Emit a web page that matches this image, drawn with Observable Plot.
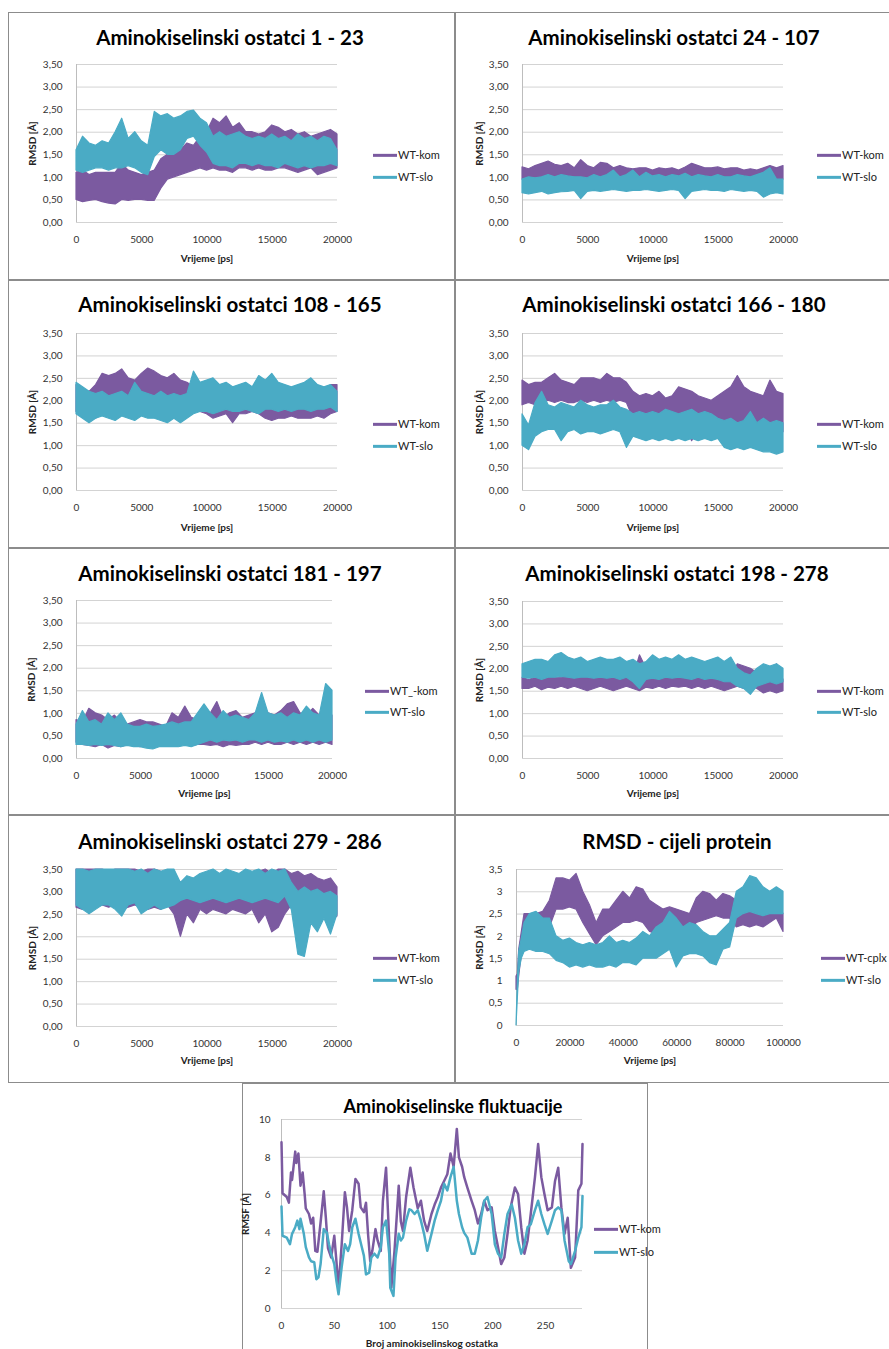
<!DOCTYPE html>
<html><head><meta charset="utf-8">
<script src="https://cdn.jsdelivr.net/npm/d3@7"></script>
<script src="https://cdn.jsdelivr.net/npm/@observablehq/plot@0.6"></script>
<style>
body{margin:0;background:#fff;font-family:Lato,"Open Sans",sans-serif;}
#page{position:relative;width:889px;height:1349px;overflow:hidden;background:#fff;}
.panel{position:absolute;border:1px solid #8c8c8c;box-sizing:border-box;}
.title{position:absolute;font-weight:700;color:#000;white-space:nowrap;transform:translate(-50%,-50%);line-height:1.1;}
.leg{position:absolute;font-size:11px;color:#222;white-space:nowrap;transform:translateY(-50%);display:flex;align-items:center;line-height:1.3;}
.leg i{display:inline-block;width:24px;height:3px;margin-right:1px;flex:none;}
</style></head>
<body><div id="page"></div>
<script>
// ---------- tick labels ----------
const ticksRmsd = [0,0.5,1,1.5,2,2.5,3,3.5];
const ticksTime20 = [0,5000,10000,15000,20000];
const ticksTime100 = [0,20000,40000,60000,80000,100000];
const ticksRmsf = [0,2,4,6,8,10];
const ticksRes = [0,50,100,150,200,250];

// ---------- time samples (ps) ----------
const times20 = [0,500,1000,1500,2000,2500,3000,3500,4000,4500,5000,5500,6000,6500,7000,7500,8000,8500,9000,9500,10000,10500,11000,11500,12000,12500,13000,13500,14000,14500,15000,15500,16000,16500,17000,17500,18000,18500,19000,19500,20000];
const times100 = [0,500,1000,2000,3000,5000,7500,10000,12500,15000,17500,20000,22500,25000,27500,30000,32500,35000,37500,40000,42500,45000,47500,50000,52500,55000,57500,60000,62500,65000,67500,70000,72500,75000,77500,80000,82500,85000,87500,90000,92500,95000,97500,100000];

// ---------- residues 1-23 (lower / upper envelope of the noisy trace) ----------
const p1KomLo = [0.5,0.45,0.48,0.5,0.45,0.42,0.4,0.5,0.48,0.5,0.5,0.48,0.48,0.75,0.95,1.0,1.05,1.1,1.15,1.2,1.15,1.2,1.15,1.15,1.1,1.2,1.2,1.15,1.2,1.15,1.15,1.2,1.2,1.15,1.1,1.15,1.2,1.05,1.1,1.15,1.2];
const p1KomHi = [1.1,1.15,1.05,1.1,1.1,1.1,1.1,1.3,1.15,1.1,1.05,1.1,1.15,1.4,1.5,1.55,1.6,1.75,1.7,1.9,2.0,2.3,2.2,2.35,2.1,2.2,2.0,2.0,1.95,2.0,2.15,2.1,2.0,2.05,1.95,2.0,1.9,1.95,2.0,2.05,1.95];
const p1SloLo = [1.15,1.1,1.15,1.2,1.2,1.15,1.2,1.2,1.25,1.2,1.1,1.05,1.45,1.6,1.5,1.5,1.6,1.85,1.9,1.7,1.55,1.3,1.25,1.25,1.2,1.3,1.3,1.25,1.3,1.25,1.25,1.2,1.3,1.25,1.2,1.25,1.2,1.25,1.25,1.3,1.25];
const p1SloHi = [1.6,1.9,1.75,1.7,1.8,1.75,2.0,2.3,1.85,2.0,1.8,1.7,2.45,2.35,2.4,2.3,2.35,2.45,2.48,2.3,2.2,1.9,2.0,1.9,1.95,2.0,1.9,1.85,1.9,1.85,1.95,1.85,1.9,1.8,1.95,1.85,1.9,1.8,1.9,1.85,1.6];

// ---------- residues 24-107 ----------
const p2KomLo = [0.95,0.95,0.98,0.95,1.0,0.95,0.98,0.95,0.95,0.92,0.95,0.98,0.95,0.95,0.95,0.98,0.95,0.95,0.97,0.95,0.95,0.95,0.98,0.95,0.93,0.95,0.95,0.98,0.95,0.95,0.95,0.95,0.97,0.95,0.93,0.95,0.92,0.88,0.9,0.95,0.95];
const p2KomHi = [1.22,1.18,1.25,1.3,1.35,1.28,1.25,1.3,1.2,1.38,1.25,1.2,1.32,1.3,1.2,1.25,1.2,1.18,1.2,1.2,1.15,1.2,1.18,1.2,1.15,1.22,1.3,1.25,1.2,1.2,1.22,1.18,1.2,1.2,1.15,1.18,1.15,1.2,1.25,1.2,1.25];
const p2SloLo = [0.65,0.62,0.65,0.68,0.62,0.65,0.67,0.68,0.7,0.52,0.68,0.7,0.68,0.7,0.72,0.7,0.68,0.7,0.7,0.72,0.7,0.68,0.7,0.72,0.7,0.52,0.68,0.7,0.72,0.7,0.7,0.68,0.72,0.7,0.68,0.7,0.68,0.55,0.62,0.65,0.62];
const p2SloHi = [0.95,1.0,0.98,1.0,1.05,1.0,1.05,1.02,1.0,1.0,0.98,1.05,1.0,1.05,1.15,1.0,1.05,1.15,1.0,1.1,1.02,1.05,1.0,1.05,1.02,1.08,1.0,1.05,1.02,1.0,1.05,1.0,1.0,1.05,1.02,1.0,1.05,1.1,1.2,0.95,0.95];

// ---------- residues 108-165 ----------
const p3KomLo = [1.75,1.7,1.65,1.6,1.75,2.0,2.05,2.1,2.1,1.9,1.85,2.05,2.1,2.05,2.0,2.0,2.05,1.95,1.8,1.75,1.7,1.6,1.65,1.7,1.5,1.7,1.7,1.75,1.7,1.6,1.55,1.6,1.6,1.65,1.6,1.6,1.6,1.65,1.6,1.7,1.75];
const p3KomHi = [2.35,2.25,2.2,2.35,2.6,2.55,2.6,2.7,2.5,2.45,2.6,2.72,2.65,2.55,2.5,2.6,2.45,2.4,2.3,2.2,2.1,2.1,2.0,2.1,2.1,2.1,2.05,2.1,2.0,2.1,2.05,2.0,2.0,2.05,2.0,2.0,1.95,2.0,2.1,2.35,2.35];
const p3SloLo = [1.7,1.6,1.5,1.6,1.65,1.6,1.55,1.65,1.6,1.55,1.65,1.6,1.6,1.55,1.5,1.6,1.5,1.6,1.7,1.75,1.75,1.7,1.75,1.8,1.75,1.75,1.8,1.75,1.7,1.8,1.8,1.75,1.8,1.75,1.8,1.8,1.75,1.8,1.8,1.85,1.75];
const p3SloHi = [2.4,2.3,2.2,2.15,2.2,2.1,2.15,2.2,2.1,2.4,2.2,2.15,2.1,2.2,2.1,2.15,2.1,2.15,2.65,2.4,2.45,2.5,2.35,2.4,2.3,2.35,2.4,2.3,2.55,2.45,2.6,2.4,2.35,2.3,2.35,2.4,2.5,2.35,2.3,2.35,2.2];

// ---------- residues 166-180 ----------
const p4KomLo = [1.9,1.95,1.9,1.95,2.0,1.95,2.0,1.95,1.95,2.0,1.95,2.0,1.95,2.0,1.95,2.0,1.95,1.6,1.5,1.45,1.5,1.45,1.4,1.45,1.4,1.45,1.1,1.4,1.45,1.4,1.35,1.4,1.35,1.4,1.35,1.4,1.3,1.35,1.3,1.35,1.3];
const p4KomHi = [2.45,2.35,2.4,2.4,2.5,2.6,2.45,2.4,2.35,2.5,2.5,2.5,2.45,2.6,2.5,2.5,2.4,2.2,2.1,2.15,2.1,2.2,2.05,2.1,2.3,2.25,2.2,2.1,2.05,2.0,2.1,2.2,2.3,2.55,2.3,2.2,2.15,2.1,2.45,2.2,2.15];
const p4SloLo = [1.0,0.9,1.2,1.3,1.35,1.35,1.1,1.3,1.35,1.25,1.3,1.3,1.25,1.3,1.35,1.3,0.95,1.2,1.15,1.1,1.15,1.1,1.15,1.1,1.15,1.1,1.15,1.1,1.15,1.1,1.15,0.95,0.9,0.95,0.9,0.95,0.9,0.85,0.85,0.8,0.85];
const p4SloHi = [1.7,1.45,1.95,2.2,1.9,1.85,1.95,1.9,1.85,2.0,1.9,1.85,1.9,1.9,2.0,1.85,1.8,1.7,1.75,1.7,1.75,1.7,1.8,1.75,1.7,1.75,1.8,1.7,1.75,1.7,1.6,1.55,1.6,1.5,1.55,1.75,1.5,1.6,1.5,1.55,1.5];

// ---------- residues 181-197 ----------
const p5KomLo = [0.35,0.3,0.28,0.25,0.3,0.22,0.28,0.25,0.3,0.28,0.25,0.3,0.28,0.3,0.3,0.28,0.3,0.3,0.28,0.3,0.3,0.28,0.3,0.25,0.3,0.28,0.3,0.3,0.35,0.3,0.35,0.3,0.3,0.35,0.3,0.35,0.3,0.35,0.3,0.35,0.3];
const p5KomHi = [0.85,0.8,1.1,1.0,0.95,0.85,0.95,0.8,0.75,0.8,0.85,0.8,0.8,0.75,0.7,1.0,0.9,1.15,0.9,0.85,0.85,1.0,1.25,0.9,1.0,1.05,0.9,0.95,1.0,1.05,1.0,0.95,1.05,1.2,1.25,1.0,0.95,1.1,0.95,1.0,0.95];
const p5SloLo = [0.3,0.3,0.28,0.3,0.28,0.3,0.28,0.25,0.28,0.25,0.25,0.22,0.2,0.25,0.25,0.25,0.25,0.28,0.25,0.3,0.35,0.4,0.35,0.4,0.38,0.4,0.35,0.4,0.4,0.35,0.4,0.35,0.38,0.35,0.4,0.35,0.4,0.35,0.4,0.35,0.4];
const p5SloHi = [0.75,1.05,0.8,0.85,0.75,1.0,0.85,1.0,0.75,0.7,0.7,0.75,0.7,0.72,0.75,0.8,0.75,0.8,0.8,1.0,1.2,1.0,0.85,1.05,0.9,0.95,0.9,0.85,1.0,1.45,1.0,0.95,1.0,0.9,1.0,0.95,1.15,1.0,0.95,1.65,1.5];

// ---------- residues 198-278 ----------
const p6KomLo = [1.55,1.55,1.6,1.52,1.58,1.55,1.6,1.55,1.6,1.55,1.5,1.55,1.6,1.55,1.5,1.55,1.6,1.55,1.5,1.58,1.55,1.6,1.55,1.6,1.58,1.6,1.55,1.6,1.55,1.6,1.55,1.5,1.55,1.6,1.55,1.6,1.55,1.45,1.5,1.45,1.5];
const p6KomHi = [1.8,1.75,1.8,1.85,1.9,1.8,1.8,1.85,1.9,1.8,1.85,1.8,1.8,1.85,1.8,1.9,1.85,1.8,2.3,2.0,1.85,1.85,1.9,1.85,1.85,1.8,1.85,1.8,1.85,1.8,1.85,1.8,1.85,2.1,2.05,2.0,1.9,1.8,1.75,2.1,1.75];
const p6SloLo = [1.8,1.78,1.8,1.75,1.8,1.8,1.82,1.8,1.78,1.8,1.8,1.78,1.8,1.78,1.8,1.75,1.8,1.7,1.55,1.75,1.78,1.75,1.8,1.78,1.8,1.78,1.75,1.8,1.75,1.78,1.75,1.7,1.7,1.6,1.55,1.42,1.6,1.65,1.7,1.65,1.7];
const p6SloHi = [2.1,2.15,2.2,2.2,2.15,2.3,2.35,2.25,2.2,2.25,2.15,2.2,2.25,2.2,2.2,2.25,2.15,2.2,2.1,2.15,2.3,2.2,2.25,2.2,2.3,2.2,2.25,2.2,2.15,2.2,2.25,2.15,2.25,2.0,1.9,1.85,2.0,2.1,2.05,2.1,2.0];

// ---------- residues 279-286 ----------
const p7KomLo = [2.65,2.6,2.7,2.65,2.7,2.65,2.7,2.6,2.65,2.7,2.65,2.6,2.65,2.6,2.7,2.5,2.0,2.5,2.3,2.6,2.5,2.6,2.55,2.5,2.6,2.55,2.5,2.6,2.3,2.5,2.1,2.2,2.5,2.7,2.65,2.45,2.4,2.5,2.45,2.35,2.45];
const p7KomHi = [3.5,3.5,3.5,3.5,3.5,3.45,3.5,3.5,3.5,3.5,3.45,3.5,3.5,3.45,3.4,3.3,3.2,3.3,3.25,3.1,3.15,3.2,3.1,3.15,3.2,3.35,3.3,3.4,3.45,3.5,3.4,3.5,3.5,3.4,3.45,3.35,3.4,3.3,3.25,3.3,3.1];
const p7SloLo = [2.7,2.6,2.5,2.6,2.7,2.7,2.6,2.45,2.7,2.75,2.5,2.6,2.7,2.6,2.65,2.7,2.8,2.85,2.8,2.75,2.8,2.85,2.8,2.75,2.8,2.85,2.8,2.75,2.8,2.85,2.8,2.75,2.9,2.6,1.6,1.55,2.3,2.1,2.4,2.05,2.5];
const p7SloHi = [3.5,3.5,3.45,3.5,3.5,3.5,3.5,3.5,3.5,3.45,3.5,3.4,3.5,3.45,3.5,3.5,3.2,3.35,3.3,3.4,3.45,3.5,3.4,3.5,3.45,3.4,3.5,3.45,3.5,3.4,3.5,3.45,3.5,3.2,3.0,3.1,3.0,3.05,2.95,3.0,2.9];

// ---------- whole protein (0-100000 ps) ----------
const p8KomLo = [0.8,0.8,1.1,1.6,1.9,2.0,2.0,2.05,2.2,2.6,2.6,2.65,2.6,2.3,2.05,1.8,2.0,2.1,2.2,2.3,2.3,2.35,2.3,2.1,2.05,2.1,2.15,2.2,2.1,2.05,2.3,2.35,2.4,2.45,2.4,2.4,2.2,2.25,2.2,2.25,2.2,2.3,2.4,2.1];
const p8KomHi = [1.1,1.15,1.7,2.1,2.5,2.5,2.5,2.55,2.8,3.3,3.3,3.25,3.4,3.0,2.7,2.3,2.6,2.6,2.8,3.0,2.85,3.1,3.05,2.8,2.7,2.6,2.65,2.6,2.55,2.5,2.85,3.0,2.95,2.8,2.95,2.9,2.8,2.8,2.75,2.7,2.7,2.65,2.8,2.5];
const p8SloLo = [0,0.6,1.2,1.5,1.65,1.7,1.65,1.65,1.6,1.45,1.4,1.3,1.35,1.3,1.35,1.3,1.3,1.35,1.3,1.4,1.4,1.35,1.5,1.5,1.5,1.6,1.7,1.3,1.55,1.6,1.6,1.55,1.4,1.35,1.7,1.75,2.4,2.5,2.55,2.5,2.45,2.5,2.5,2.5];
const p8SloHi = [0,1.0,1.65,1.95,2.3,2.5,2.55,2.4,2.4,2.0,1.9,1.95,1.85,1.8,1.85,1.8,1.85,2.0,1.85,1.9,1.85,1.95,2.1,2.0,2.2,2.3,2.55,2.4,2.2,2.3,2.25,2.1,2.0,2.0,2.15,2.3,3.0,3.1,3.35,3.3,3.1,3.0,3.1,3.0];

// ---------- RMSF per residue ----------
const rmsfResKom = [0,1,5,7,9,10,13,14,16,18,20,22,23,26,28,30,32,34,37,40,42,44,47,50,52,54,57,60,62,64,67,70,73,75,78,80,82,84,86,89,91,94,96,99,102,104,107,111,113,115,118,122,125,129,132,135,138,142,145,148,151,154,157,160,163,166,168,171,173,176,180,183,186,189,192,195,199,202,205,208,211,214,217,221,224,227,230,233,236,240,243,246,249,252,256,259,262,265,268,271,274,278,281,284,285];
const rmsfKom = [8.8,6.1,5.9,5.6,7.2,6.8,8.3,7.7,8.2,6.5,7.2,6.0,5.3,5.0,4.5,4.8,3.05,3.0,4.55,6.2,4.8,3.2,2.7,3.85,2.5,1.1,3.4,6.15,5.35,4.1,5.2,6.85,6.6,5.35,5.1,5.6,3.9,2.5,3.05,4.2,3.6,3.05,5.7,7.45,3.6,1.1,3.05,6.5,4.6,4.1,5.9,7.45,6.4,5.3,5.7,4.65,4.1,5.0,5.5,5.9,6.4,6.75,7.1,8.2,7.5,9.5,8.0,7.5,6.95,6.4,5.7,5.2,4.5,5.0,5.7,5.2,5.35,4.1,3.25,2.35,2.7,3.95,5.35,6.4,6.05,4.3,2.9,3.6,5.0,6.95,8.7,6.95,6.05,5.2,5.35,6.75,7.45,5.35,3.95,4.8,2.15,2.7,6.25,6.6,8.7];
const rmsfResSlo = [0,1,5,8,10,13,15,17,18,21,23,26,28,31,33,35,37,40,43,45,47,50,52,54,57,60,63,65,67,70,73,76,78,80,83,85,88,91,94,96,99,102,103,106,108,111,113,115,118,121,123,126,129,132,135,138,142,145,148,151,154,157,160,163,166,168,171,173,176,180,183,186,189,192,195,199,202,205,208,211,214,218,221,224,227,230,233,236,240,243,246,249,252,256,259,262,265,268,272,274,278,281,284,285];
const rmsfSlo = [5.4,3.85,3.75,3.4,3.95,4.3,4.65,4.2,4.75,4.0,3.25,2.7,2.5,2.45,1.55,1.65,2.35,4.2,4.0,3.4,2.9,2.35,1.45,0.75,2.2,3.4,3.05,3.4,4.3,4.75,3.95,3.25,2.8,1.8,1.9,2.7,2.9,2.7,3.25,4.3,4.65,2.9,1.1,0.67,2.7,3.95,3.6,3.75,4.65,5.25,5.2,5.0,5.2,4.65,3.95,3.05,3.95,4.65,5.2,5.7,6.6,6.25,6.95,7.5,5.7,5.0,4.3,4.0,3.75,2.9,2.9,3.6,4.8,5.7,5.9,5.0,3.4,2.9,2.7,3.95,5.0,5.5,4.8,3.6,2.9,3.4,4.3,4.45,5.2,5.7,5.0,4.45,3.95,4.65,5.2,5.35,5.2,3.6,2.5,2.35,3.05,3.75,4.3,5.95];

// ---------- layout (page pixels) ----------
const COL_KOM = "#7b5aa0", COL_SLO = "#4aabc5";
const rmsdPanels = [
  {box:[8,12,447,268], plot:[76,64,337,222], title:"Aminokiselinski ostatci 1 - 23", tx:230, ty:37, yDx:-44, xDy:36, leg:[373,155,177], names:["WT-kom","WT-slo"], kom:[p1KomLo,p1KomHi], slo:[p1SloLo,p1SloHi]},
  {box:[455,12,440,268], plot:[522,64,783,222], title:"Aminokiselinski ostatci 24 - 107", tx:674, ty:37, yDx:-43, xDy:36, leg:[817,155,177], names:["WT-kom","WT-slo"], kom:[p2KomLo,p2KomHi], slo:[p2SloLo,p2SloHi]},
  {box:[8,280,447,268], plot:[76,333,337,490], title:"Aminokiselinski ostatci 108 - 165", tx:230, ty:304, yDx:-44, xDy:37, leg:[373,424,446], names:["WT-kom","WT-slo"], kom:[p3KomLo,p3KomHi], slo:[p3SloLo,p3SloHi]},
  {box:[455,280,440,268], plot:[522,333,783,490], title:"Aminokiselinski ostatci 166 - 180", tx:674, ty:304, yDx:-43, xDy:37, leg:[817,424,446], names:["WT-kom","WT-slo"], kom:[p4KomLo,p4KomHi], slo:[p4SloLo,p4SloHi]},
  {box:[8,548,447,267], plot:[76,600,332,758], title:"Aminokiselinski ostatci 181 - 197", tx:230, ty:573, yDx:-45, xDy:35, leg:[365,691,712], names:["WT_-kom","WT-slo"], kom:[p5KomLo,p5KomHi], slo:[p5SloLo,p5SloHi]},
  {box:[455,548,440,267], plot:[522,601,783,758], title:"Aminokiselinski ostatci 198 - 278", tx:677, ty:573, yDx:-43, xDy:35, leg:[817,691,712], names:["WT-kom","WT-slo"], kom:[p6KomLo,p6KomHi], slo:[p6SloLo,p6SloHi]},
  {box:[8,815,447,268], plot:[76,869,337,1026], title:"Aminokiselinski ostatci 279 - 286", tx:230, ty:841, yDx:-44, xDy:34, leg:[373,958,980], names:["WT-kom","WT-slo"], kom:[p7KomLo,p7KomHi], slo:[p7SloLo,p7SloHi]},
  {box:[455,815,440,268], plot:[516,869,783,1025], title:"RMSD - cijeli protein", tx:677, ty:841, yDx:-37, xDy:35, leg:[821,958,980], names:["WT-cplx","WT-slo"], kom:[p8KomLo,p8KomHi], slo:[p8SloLo,p8SloHi], long:true}
];
const rmsfPanel = {box:[242,1083,406,270], plot:[281,1119,582,1308], title:"Aminokiselinske fluktuacije", tx:453, ty:1107, yDx:-36, xDy:35, leg:[594,1229,1252], names:["WT-kom","WT-slo"]};

const page = document.getElementById("page");
const fmt2 = d => d.toFixed(2).replace(".", ",");
const fmtG = d => String(d).replace(".", ",");

function addDiv(cls, css, html) {
  const el = document.createElement("div");
  el.className = cls; Object.assign(el.style, css); if (html != null) el.innerHTML = html;
  page.appendChild(el); return el;
}
function frame(cfg, fontSize) {
  const [bx,by,bw,bh] = cfg.box;
  addDiv("panel", {left:bx+"px", top:by+"px", width:bw+"px", height:bh+"px"});
  addDiv("title", {left:cfg.tx+"px", top:cfg.ty+"px", fontSize:fontSize+"px"}, cfg.title);
}
function legend(cfg) {
  const [lx, y1, y2] = cfg.leg;
  [[cfg.names[0], COL_KOM, y1], [cfg.names[1], COL_SLO, y2]].forEach(([n, c, y]) => {
    addDiv("leg", {left:lx+"px", top:y+"px"}, `<i style="background:${c}"></i><span>${n}</span>`);
  });
}
function place(svg, cfg) {
  svg.style.position = "absolute";
  svg.style.left = cfg.box[0] + "px";
  svg.style.top = cfg.box[1] + "px";
  page.appendChild(svg);
}
function baseOpts(cfg) {
  const [bx,by,bw,bh] = cfg.box, [pl,pt,pr,pb] = cfg.plot;
  return {
    width: bw, height: bh,
    marginLeft: pl - bx, marginRight: bx + bw - pr, marginTop: pt - by, marginBottom: by + bh - pb,
    style: {fontFamily: "Lato, sans-serif", fontSize: "10px", color: "#333", background: "transparent", overflow: "visible"}
  };
}
function labels(cfg, yLab, xLab) {
  return [
    Plot.text([yLab], {frameAnchor: "left", rotate: -90, dx: cfg.yDx, textAnchor: "middle", lineAnchor: "middle", fontWeight: "bold", fontSize: 10, fill: "#222"}),
    Plot.text([xLab], {frameAnchor: "bottom", dy: cfg.xDy, textAnchor: "middle", lineAnchor: "middle", fontWeight: "bold", fontSize: 10, fill: "#222"})
  ];
}

// ---- RMSD panels ----
rmsdPanels.forEach(cfg => {
  frame(cfg, 20.5);
  const times = cfg.long ? times100 : times20;
  const kom = times.map((t, i) => ({t, lo: cfg.kom[0][i], hi: cfg.kom[1][i]}));
  const slo = times.map((t, i) => ({t, lo: cfg.slo[0][i], hi: cfg.slo[1][i]}));
  const svg = Plot.plot({
    ...baseOpts(cfg),
    x: {domain: [0, cfg.long ? 100000 : 20000], ticks: cfg.long ? ticksTime100 : ticksTime20, tickFormat: d => String(d), tickSize: 0, tickPadding: 13, label: null},
    y: {domain: [0, 3.5], ticks: ticksRmsd, tickFormat: cfg.long ? fmtG : fmt2, tickSize: 0, tickPadding: 14, label: null},
    marks: [
      Plot.ruleY(ticksRmsd, {stroke: "#d3d3d3"}),
      Plot.ruleX([0], {stroke: "#bdbdbd"}),
      Plot.areaY(kom, {x: "t", y1: "lo", y2: "hi", fill: COL_KOM, stroke: COL_KOM, strokeWidth: 1.2}),
      Plot.areaY(slo, {x: "t", y1: "lo", y2: "hi", fill: COL_SLO, stroke: COL_SLO, strokeWidth: 1.2}),
      ...labels(cfg, "RMSD [Å]", "Vrijeme [ps]")
    ]
  });
  place(svg, cfg);
  legend(cfg);
});

// ---- RMSF panel ----
(() => {
  const cfg = rmsfPanel;
  frame(cfg, 18);
  const kom = rmsfResKom.map((r, i) => ({r, v: rmsfKom[i]}));
  const slo = rmsfResSlo.map((r, i) => ({r, v: rmsfSlo[i]}));
  const svg = Plot.plot({
    ...baseOpts(cfg),
    x: {domain: [0, 285], ticks: ticksRes, tickFormat: d => String(d), tickSize: 0, tickPadding: 13, label: null},
    y: {domain: [0, 10], ticks: ticksRmsf, tickFormat: d => String(d), tickSize: 0, tickPadding: 11, label: null},
    marks: [
      Plot.ruleY(ticksRmsf, {stroke: "#d3d3d3"}),
      Plot.ruleX([0], {stroke: "#bdbdbd"}),
      Plot.line(kom, {x: "r", y: "v", stroke: COL_KOM, strokeWidth: 2.5}),
      Plot.line(slo, {x: "r", y: "v", stroke: COL_SLO, strokeWidth: 2.5}),
      ...labels(cfg, "RMSF [Å]", "Broj aminokiselinskog ostatka")
    ]
  });
  place(svg, cfg);
  legend(cfg);
})();
</script>
</body></html>
